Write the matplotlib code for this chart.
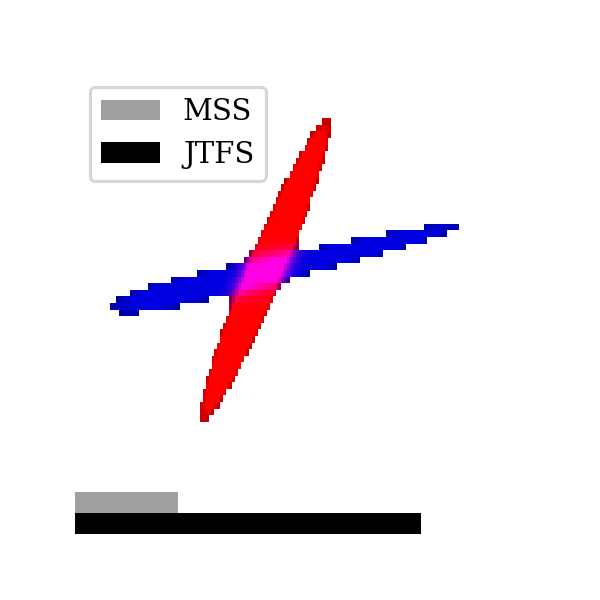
import numpy as np
import matplotlib
matplotlib.use("Agg")
import matplotlib.pyplot as plt
from matplotlib.patches import Patch

# ---- data ----
labels = ["MSS", "JTFS"]
scores = [0.222, 0.744]
bar_colors = ["#a0a0a0", "#000000"]

# two response blobs (centre in axes fraction, half-length / half-width in
# axes-width fraction, orientation in degrees, end sharpness, width taper)
red_center = (0.409, 0.571)
red_half_len = 0.352
red_half_wid = 0.039
red_angle = 67.4
red_end_power = 2.2
red_taper = 0.0

blue_center = (0.452, 0.578)
blue_half_len = 0.385
blue_half_wid = 0.027
blue_angle = 13.3
blue_end_power = 4.0
blue_taper = 0.35

img_cols, img_rows = 160, 70

# ---- figure ----
fig = plt.figure(figsize=(6, 6), dpi=100)
ax = fig.add_axes([0.125, 0.11, 0.775, 0.77])
ax.set_xlim(0, 1)
ax.set_ylim(0, 1)
ax.axis("off")

W, H = 465.0, 462.0          # axes size in pixels

xs = (np.arange(img_cols) + 0.5) / img_cols * W
ys = (np.arange(img_rows) + 0.5) / img_rows * H
X, Y = np.meshgrid(xs, ys)


def blob(center, half_len, half_wid, angle, power, taper, amp, thr=0.75):
    cx, cy = center[0] * W, center[1] * H
    t = np.deg2rad(angle)
    u = (X - cx) * np.cos(t) + (Y - cy) * np.sin(t)
    v = -(X - cx) * np.sin(t) + (Y - cy) * np.cos(t)
    un = u / (half_len * W)
    wid = half_wid * W * np.clip(1 - taper * un, 0.2, None)
    d2 = np.abs(un) ** power + (v / wid) ** 2
    return amp * np.exp(-d2 * np.log(amp / thr))


thr = 0.75
r = np.clip(blob(red_center, red_half_len, red_half_wid, red_angle,
                 red_end_power, red_taper, amp=3.0), 0, 1)
b = np.clip(blob(blue_center, blue_half_len, blue_half_wid, blue_angle,
                 blue_end_power, blue_taper, amp=1.6), 0, 1)
rgba = np.zeros((img_rows, img_cols, 4))
rgba[..., 0] = r
rgba[..., 2] = b * 0.88
rgba[..., 3] = ((r + b) >= thr).astype(float)

ax.imshow(rgba, extent=(0, 1, 0, 1), origin="lower",
          aspect="auto", interpolation="nearest", zorder=1)

# bars
bar_h = 21.0 / H
ypos = [bar_h * 1.5, bar_h * 0.5]
ax.barh(ypos, scores, height=bar_h, left=0, color=bar_colors, zorder=2)

handles = [Patch(facecolor=c, label=l) for c, l in zip(bar_colors, labels)]
leg = ax.legend(handles=handles, loc="upper left",
                prop={"family": "DejaVu Serif", "size": 21},
                edgecolor="#d6d6d6", framealpha=1, fancybox=True)
leg.get_frame().set_linewidth(2.2)

fig.savefig("out.png", dpi=100)
